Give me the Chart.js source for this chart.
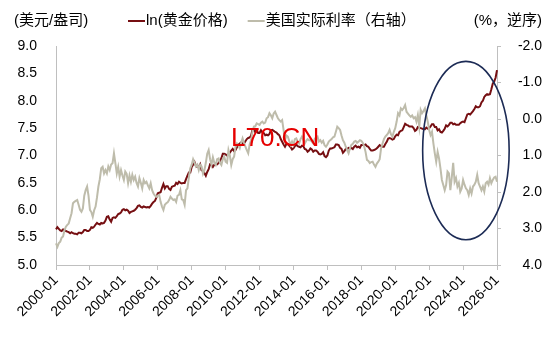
<!DOCTYPE html>
<html>
<head>
<meta charset="utf-8">
<script src="https://cdn.jsdelivr.net/npm/chart.js@4.4.1/dist/chart.umd.min.js"></script>
<style>
  body { margin: 0; background: #fff; }
</style>
</head>
<body>
<canvas id="goldChart" width="550" height="340"></canvas>
<script>
  // monthly, 2000-01 .. 2026-01
  const startYear = 2000;
  const labelEvery = 24;

  // ln(gold price, USD/oz)
  const goldLn = [
    5.65,5.69,5.66,5.63,5.62,5.65,5.64,5.62,5.61,5.60,5.58,5.60,
    5.58,5.57,5.57,5.56,5.59,5.59,5.58,5.60,5.64,5.64,5.62,5.62,
    5.64,5.69,5.68,5.70,5.74,5.77,5.75,5.74,5.77,5.76,5.77,5.81,
    5.88,5.89,5.83,5.79,5.86,5.87,5.86,5.89,5.93,5.94,5.96,6.01,
    6.02,6.00,6.01,5.99,5.95,5.97,5.98,5.99,6.01,6.04,6.08,6.09,
    6.06,6.05,6.07,6.06,6.05,6.06,6.05,6.08,6.12,6.15,6.17,6.23,
    6.31,6.32,6.33,6.41,6.48,6.40,6.44,6.44,6.39,6.37,6.43,6.44,
    6.45,6.50,6.48,6.52,6.50,6.49,6.50,6.50,6.57,6.63,6.69,6.69,
    6.79,6.83,6.88,6.81,6.79,6.79,6.84,6.73,6.72,6.68,6.63,6.70,
    6.75,6.84,6.83,6.79,6.83,6.85,6.84,6.86,6.90,6.95,7.03,7.03,
    7.02,7.00,7.02,7.05,7.09,7.12,7.08,7.10,7.15,7.20,7.22,7.24,
    7.21,7.22,7.26,7.30,7.32,7.33,7.36,7.47,7.48,7.42,7.46,7.41,
    7.41,7.46,7.42,7.41,7.37,7.38,7.37,7.39,7.46,7.47,7.45,7.43,
    7.42,7.39,7.37,7.30,7.25,7.20,7.16,7.21,7.21,7.18,7.15,7.11,
    7.13,7.17,7.20,7.17,7.16,7.15,7.18,7.17,7.12,7.11,7.07,7.09,
    7.13,7.11,7.07,7.09,7.09,7.07,7.03,7.02,7.03,7.06,6.99,6.97,
    7.00,7.09,7.13,7.13,7.14,7.15,7.20,7.20,7.19,7.14,7.12,7.05,
    7.08,7.12,7.12,7.14,7.13,7.14,7.12,7.16,7.18,7.15,7.16,7.14,
    7.19,7.19,7.19,7.20,7.17,7.16,7.12,7.09,7.09,7.10,7.11,7.13,
    7.16,7.19,7.17,7.16,7.16,7.21,7.25,7.31,7.32,7.31,7.29,7.30,
    7.35,7.38,7.37,7.43,7.45,7.46,7.52,7.58,7.56,7.55,7.53,7.53,
    7.53,7.50,7.45,7.47,7.52,7.51,7.50,7.49,7.48,7.48,7.51,7.49,
    7.50,7.53,7.57,7.57,7.52,7.52,7.46,7.48,7.43,7.42,7.45,7.49,
    7.55,7.53,7.56,7.60,7.60,7.57,7.58,7.56,7.56,7.56,7.59,7.61,
    7.62,7.61,7.68,7.75,7.76,7.75,7.78,7.81,7.85,7.90,7.88,7.88,
    7.90,7.97,8.00,8.07,8.10,8.12,8.11,8.12,8.21,8.31,8.35,8.42,
    8.56
  ];

  // US real interest rate, %, plotted on the reversed right axis
  const realRate = [
    3.41,3.50,3.40,3.36,3.25,3.22,3.05,2.95,2.90,2.86,2.72,2.58,
    2.31,2.27,2.24,2.22,2.35,2.49,2.54,2.45,2.10,1.95,1.85,2.10,
    2.49,2.55,2.68,2.50,2.40,2.15,1.85,1.65,1.35,1.31,1.49,1.40,
    1.49,1.30,1.40,1.25,1.21,0.94,1.21,1.49,1.31,1.58,1.40,1.55,
    1.67,1.44,1.50,1.76,1.55,1.72,1.53,1.67,1.58,1.75,1.85,1.62,
    1.75,1.90,1.67,1.76,1.72,1.82,1.90,1.76,1.95,2.04,2.10,2.13,
    2.10,2.08,2.27,2.40,2.49,2.35,2.31,2.28,2.22,2.13,2.18,2.22,
    2.20,2.27,2.10,2.08,1.95,2.20,2.22,2.35,1.95,1.90,1.60,1.35,
    1.25,1.10,1.20,1.30,1.25,1.40,1.25,1.30,1.50,1.40,1.20,0.95,
    0.85,1.10,1.25,1.05,1.20,1.26,1.10,1.08,1.20,1.26,1.10,1.03,
    1.17,1.20,0.85,1.00,1.26,1.10,1.03,0.76,0.67,0.72,0.80,0.65,
    0.53,0.65,0.76,0.85,0.94,0.70,0.58,0.35,0.21,0.20,0.12,0.14,
    0.16,0.10,0.07,0.12,0.10,-0.02,-0.05,-0.16,-0.10,-0.02,-0.15,-0.20,
    -0.11,-0.02,0.03,0.07,0.03,0.30,0.58,0.45,0.48,0.60,0.71,0.62,
    0.71,0.55,0.53,0.62,0.67,0.55,0.48,0.58,0.67,0.60,0.55,0.58,
    0.58,0.62,0.67,0.55,0.50,0.48,0.62,0.58,0.65,0.60,0.72,0.76,
    0.70,0.62,0.58,0.55,0.50,0.48,0.35,0.21,0.25,0.30,0.45,0.58,
    0.65,0.76,0.85,0.94,0.80,0.71,0.68,0.62,0.60,0.65,0.62,0.58,
    0.60,0.65,0.75,0.90,1.12,1.15,1.21,1.18,1.17,1.25,1.31,1.22,
    1.17,1.10,0.80,0.67,0.55,0.48,0.44,0.39,0.30,0.42,0.48,0.35,
    0.25,0.07,-0.16,-0.10,-0.29,-0.25,-0.30,-0.38,-0.20,-0.15,-0.10,-0.06,
    -0.10,-0.02,-0.05,0.07,-0.11,0.21,-0.25,-0.16,-0.22,-0.29,-0.10,0.07,
    0.30,0.44,0.35,0.67,0.94,1.17,0.90,1.08,1.35,1.67,1.81,1.95,
    1.81,1.44,1.49,1.95,1.60,1.20,1.72,1.62,1.85,1.75,1.99,1.90,
    1.67,1.80,1.90,1.95,2.08,1.90,2.04,1.85,1.80,1.72,1.53,1.76,
    1.85,1.95,1.85,1.99,1.76,1.72,1.80,1.62,1.76,1.67,1.60,1.58,
    1.72
  ];

  const seriesNames = ['ln(黄金价格)', '美国实际利率（右轴）'];
  const leftAxis = { min: 5, max: 9, step: 0.5, title: '(美元/盎司)' };
  const rightAxis = { min: -2, max: 4, step: 1, title: '(%，逆序)' };

  // ellipse highlight, in data units (month index / left-axis value)
  const highlight = { center: 290, halfMonths: 30.6, value: 7.09, halfValue: 1.63 };
  const watermark = 'L70.CN';

  const months = [];
  for (let i = 0; i < goldLn.length; i++) {
    const yr = startYear + Math.floor(i / 12);
    const mo = (i % 12) + 1;
    months.push(yr + '-' + String(mo).padStart(2, '0'));
  }

  const FONT = "'Liberation Sans', Arial, 'Noto Sans CJK SC', sans-serif";
  Chart.defaults.font.family = FONT;
  Chart.defaults.font.size = 14;
  Chart.defaults.color = '#000';

  const axisColor = '#BFBFBF';

  const extras = {
    id: 'extras',
    afterDatasetsDraw(chart) {
      const { ctx, scales: { x, y } } = chart;
      // watermark
      ctx.save();
      ctx.font = '26px ' + FONT;
      ctx.fillStyle = '#E60000';
      ctx.textAlign = 'center';
      ctx.textBaseline = 'middle';
      ctx.fillText(watermark, x.getPixelForValue(155), y.getPixelForValue(7.3));
      ctx.restore();

      // ellipse
      const cx = x.getPixelForValue(highlight.center);
      const rx = x.getPixelForValue(highlight.center + highlight.halfMonths) - cx;
      const cy = y.getPixelForValue(highlight.value);
      const ry = y.getPixelForValue(highlight.value - highlight.halfValue) - cy;
      ctx.save();
      ctx.strokeStyle = '#1C2B55';
      ctx.lineWidth = 1.6;
      ctx.beginPath();
      ctx.ellipse(cx, cy, rx, ry, 0, 0, Math.PI * 2);
      ctx.stroke();
      ctx.restore();
    },
    afterDraw(chart) {
      const { ctx } = chart;
      ctx.save();
      ctx.font = '15px ' + FONT;
      ctx.fillStyle = '#000';
      ctx.textBaseline = 'middle';
      const ty = 21;
      ctx.textAlign = 'left';
      ctx.fillText(leftAxis.title, 14, ty);
      ctx.textAlign = 'right';
      ctx.fillText(rightAxis.title, 542, ty);

      // legend
      ctx.textAlign = 'left';
      let lx = 128;
      chart.data.datasets.forEach(ds => {
        ctx.strokeStyle = ds.borderColor;
        ctx.lineWidth = 2;
        ctx.beginPath();
        ctx.moveTo(lx, ty);
        ctx.lineTo(lx + 17, ty);
        ctx.stroke();
        ctx.fillText(ds.label, lx + 18, ty);
        lx += 18 + ctx.measureText(ds.label).width + 20;
      });
      ctx.restore();
    }
  };

  new Chart(document.getElementById('goldChart'), {
    type: 'line',
    data: {
      labels: months,
      datasets: [
        {
          label: seriesNames[0],
          data: goldLn,
          yAxisID: 'y',
          borderColor: '#760F12',
          borderWidth: 2,
          pointRadius: 0,
          tension: 0,
          order: 1
        },
        {
          label: seriesNames[1],
          data: realRate,
          yAxisID: 'y1',
          borderColor: '#BEBCAB',
          borderWidth: 2,
          pointRadius: 0,
          tension: 0,
          order: 0
        }
      ]
    },
    options: {
      responsive: false,
      animation: false,
      layout: { padding: { top: 46, left: 0, right: 8, bottom: 0 } },
      plugins: {
        legend: { display: false },
        tooltip: { enabled: false }
      },
      scales: {
        x: {
          offset: false,
          grid: { display: true, drawOnChartArea: false, drawTicks: true, tickLength: 5, color: axisColor },
          border: { display: true, color: axisColor },
          ticks: {
            autoSkip: false,
            maxRotation: 45,
            minRotation: 45,
            padding: 2,
            font: { size: 14 },
            callback: function (val, idx) {
              return idx % labelEvery === 0 ? this.getLabelForValue(val) : null;
            }
          },
          afterFit: s => { s.height = 75; }
        },
        y: {
          position: 'left',
          min: leftAxis.min,
          max: leftAxis.max,
          grid: { display: true, drawOnChartArea: false, drawTicks: false, color: axisColor },
          border: { display: true, color: axisColor },
          ticks: { stepSize: leftAxis.step, padding: 19, callback: v => v.toFixed(1) },
          afterFit: s => { s.width = 56; }
        },
        y1: {
          position: 'right',
          reverse: true,
          min: rightAxis.min,
          max: rightAxis.max,
          grid: { display: true, drawOnChartArea: false, drawTicks: true, tickLength: 4, color: axisColor },
          border: { display: true, color: axisColor },
          ticks: { stepSize: rightAxis.step, crossAlign: 'far', callback: v => v.toFixed(1) },
          afterFit: s => { s.width = 45; }
        }
      }
    },
    plugins: [extras]
  });
</script>
</body>
</html>
